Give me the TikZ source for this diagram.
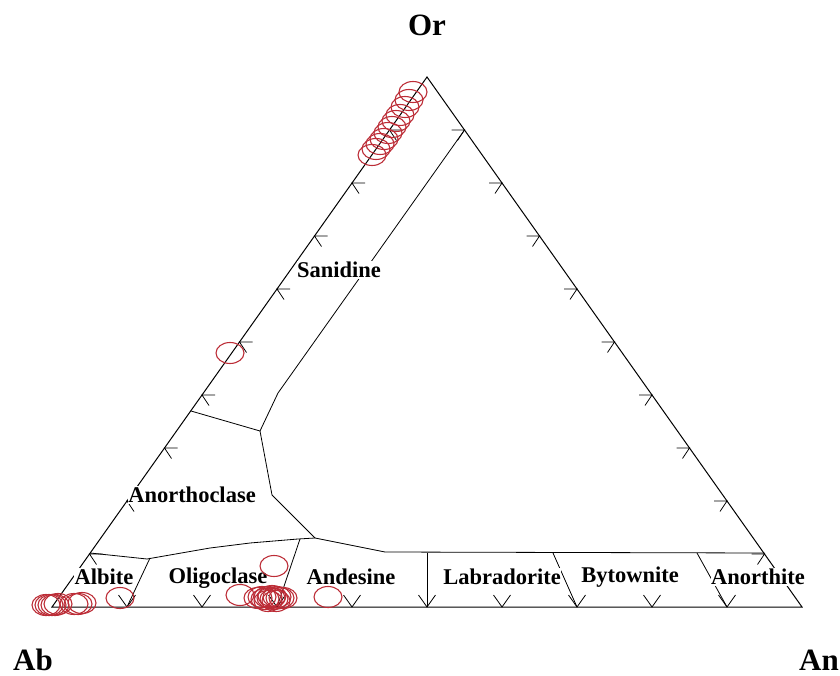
\documentclass[tikz,border=0pt]{standalone}
\usepackage{fontspec}
\setmainfont{Liberation Serif}
\usepackage{tikz}
\usepackage{xcolor}

\definecolor{ptred}{RGB}{188,45,55}

\begin{document}
\begin{tikzpicture}[x=1pt,y=-1pt,line width=0.8pt,
    field/.style={font=\bfseries\fontsize{22.5}{22.5}\selectfont,fill=white,inner sep=0.6pt},
    apex/.style={font=\bfseries\fontsize{31}{31}\selectfont,inner sep=0pt},
    datapt/.style={ptred,line width=1.1pt,x radius=14,y radius=10.5}]
    % Define parameters
    \def\ticklen{13}
    \useasboundingbox (0,0) rectangle (840,676);

% Triangle
    \coordinate (ab) at (52,607);
    \coordinate (an) at (802,607);
    \coordinate (or) at (427,77);
    \draw[line width=1pt] (ab) -- (or) -- (an) -- cycle;

% Ticks every 10 %
    \foreach \i in {1,...,9}{
        % left side
        \draw ({52+37.5*\i},{607-53*\i}) ++(\ticklen,0) -- ++(-\ticklen,0) -- ++(7,10.5);
        % right side
        \draw ({427+37.5*\i},{77+53*\i}) ++(-\ticklen,0) -- ++(\ticklen,0) -- ++(-7,10.5);
        % base
        \draw ({52+75*\i},607) ++(-8.5,-12) -- ++(8.5,12) -- ++(8.5,-12);
    }

% Field boundaries
    \draw (191,411) -- (260,431);
    \draw (464.5,130) -- (278,393) -- (260,431) -- (272,495) -- (315,538);
    \draw (90,553) -- (147,559) -- (210,548) -- (250,543) -- (298,539) -- (315,538)
        -- (385,552) -- (764.5,553);
    %\draw (90,553) -- (764.5,553);
    \draw (127,607) -- (150,558);
    \draw (277,607) -- (300,539);
    \draw (427,553) -- (427,607);
    \draw (553,553) -- (577,607);
    \draw (697,553) -- (727,607);

% Labels
    \node[apex] (lor) at (427,25) {Or};
    \node[apex] (lab) at (33,660) {Ab};
    \node[apex] (lan) at (819,660) {An};
    \node[field] (sanidine) at (339,270) {Sanidine};
    \node[field] (anorthoclase) at (192,495) {Anorthoclase};
    \node[field] (albite) at (104,577) {Albite};
    \node[field] (oligoclase) at (218,578) {Oligoclase};
    \node[field] (andesine) at (351,577) {Andesine};
    \node[field] (labradorite) at (502,577) {Labradorite};
    \node[field] (bytownite) at (630,577) {Bytownite};
    \node[field] (anorthite) at (758,577) {Anorthite};

% Data points
    \foreach \x/\y in {413/92,409/100,405/107,400/115,396/121,392/127,388/133,
                       384/139,380/144,376/149,372/155}
        \draw[datapt] (\x,\y) ellipse [];
    \draw[datapt] (230,353) ellipse [];
    \foreach \x/\y in {46/605,49/605,52/605,55/605,58/604,74/604,78/604,82/603,120/598}
        \draw[datapt] (\x,\y) ellipse [];
    \foreach \x/\y in {274/566,240/595,328/597,258/598,262/597,265/599,268/597,271/598,
                       274/599,277/597,280/598,283/598,268/601,272/596,276/601}
        \draw[datapt] (\x,\y) ellipse [];

\end{tikzpicture}
\end{document}
